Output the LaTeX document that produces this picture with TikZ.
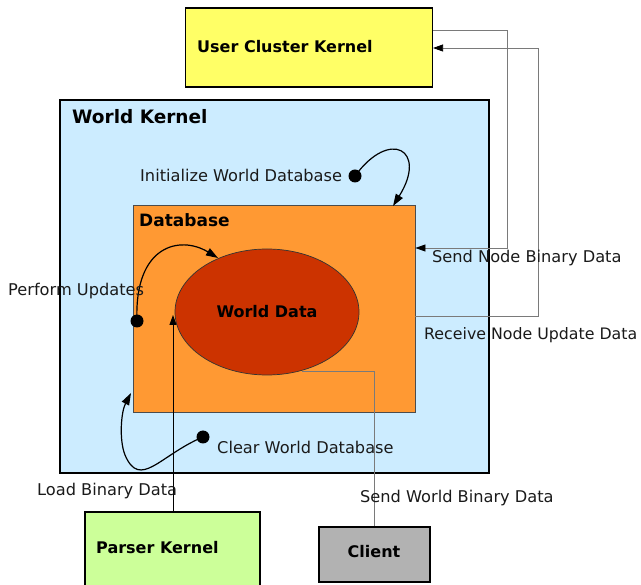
\documentclass[tikz,border=0pt]{standalone}
\usepackage{fontspec}
\setmainfont{DejaVu Sans}
\usetikzlibrary{arrows.meta,shapes.geometric}

\definecolor{uckyellow}{HTML}{FFFF66}
\definecolor{wkblue}{HTML}{CCECFF}
\definecolor{dborange}{HTML}{FF9933}
\definecolor{wdred}{HTML}{CC3300}
\definecolor{pkgreen}{HTML}{CCFF99}
\definecolor{clgray}{HTML}{B2B2B2}
\definecolor{wire}{HTML}{7A7A7A}
\definecolor{ink}{HTML}{1A1A1A}

\tikzset{
  box/.style={draw=black, line width=1.1pt, rectangle, inner sep=0pt},
  boxtitle/.style={font=\fontsize{16}{18}\selectfont\bfseries, text=black, anchor=west, inner sep=0pt},
  lbl/.style={font=\fontsize{16.2}{18}\selectfont, text=ink, anchor=west, inner sep=0pt},
  wireline/.style={draw=wire, line width=0.8pt},
  tip/.style={-{Triangle[length=10pt,width=7pt,black]}},
  flow/.style={draw=black, line width=1.2pt, -{Triangle[length=12pt,width=8pt,black]}},
  dot/.style={circle, fill=black, minimum size=13pt, inner sep=0pt},
}

\begin{document}
\begin{tikzpicture}[x=1pt,y=-1pt]
  \useasboundingbox (0,0) rectangle (641,585);

  % boxes
  \node[box, fill=uckyellow, minimum width=247pt, minimum height=79pt] (uck) at (309,47.5) {};
  \node[box, fill=wkblue, minimum width=429pt, minimum height=373pt] (wk) at (274.5,286.5) {};
  \node[box, draw=black!70, line width=0.9pt, fill=dborange, minimum width=282pt, minimum height=207pt] (db) at (274,308.5) {};
  \node[draw=black!80, line width=0.7pt, ellipse, fill=wdred, minimum width=184pt, minimum height=126pt, inner sep=0pt] (wd) at (267,312) {};
  \node[box, fill=pkgreen, minimum width=175pt, minimum height=74pt] (pk) at (172.5,549) {};
  \node[box, fill=clgray, minimum width=111pt, minimum height=55pt] (cl) at (374.5,554.5) {};

  % titles
  \node[boxtitle] (uckt) at (197,47) {User Cluster Kernel};
  \node[boxtitle, font=\fontsize{18.5}{20}\selectfont\bfseries] (wkt) at (72,117) {World Kernel};
  \node[boxtitle, font=\fontsize{17}{19}\selectfont\bfseries] (dbt) at (139,220) {Database};
  \node[boxtitle, anchor=center] (wdt) at (267,312) {World Data};
  \node[boxtitle] (pkt) at (96,548) {Parser Kernel};
  \node[boxtitle, anchor=center] (clt) at (374,552) {Client};

  % connectors to the user cluster kernel
  \coordinate (s1) at (507,30);
  \coordinate (s2) at (507,248);
  \coordinate (r1) at (538,316);
  \coordinate (r2) at (538,48);
  \draw[wireline, tip] (uck.east |- s1) -- (s1) -- (s2) -- (db.east |- s2);
  \draw[wireline, tip] (db.east |- r1) -- (r1) -- (r2) -- (uck.east |- r2);

  % connector to the client
  \coordinate (c1) at (302,371);
  \coordinate (c2) at (374,371);
  \draw[wireline] (c1) -- (c2) -- (cl.north -| c2);

  % load binary data
  \coordinate (ld) at (173,315);
  \draw[draw=black, line width=1pt, tip] (pk.north -| ld) -- (ld);

  % loop arrows with dots
  \node[dot] (d1) at (355,176) {};
  \coordinate (t1) at (393,206);
  \draw[flow] (d1.center) .. controls (390,128) and (428,150) .. (t1);

  \node[dot] (d2) at (137,321) {};
  \coordinate (t2) at (218,258);
  \draw[flow] (d2.center) .. controls (134,245) and (180,235) .. (t2);

  \node[dot] (d3) at (203,437) {};
  \coordinate (t3) at (131,393);
  \draw[flow] (d3.center) .. controls (160,455) and (140,490) .. (125,455) .. controls (119,440) and (121,412) .. (t3);

  % labels
  \node[lbl] (l1) at (140,175) {Initialize World Database};
  \node[lbl] (l2) at (8,291) {Perform Updates};
  \node[lbl] (l3) at (217,447) {Clear World Database};
  \node[lbl] (l4) at (37,491) {Load Binary Data};
  \node[lbl] (l5) at (360,498) {Send World Binary Data};
  \node[lbl] (l6) at (432,258) {Send Node Binary Data};
  \node[lbl, font=\fontsize{15.8}{18}\selectfont] (l7) at (424,335) {Receive Node Update Data};
\end{tikzpicture}
\end{document}
